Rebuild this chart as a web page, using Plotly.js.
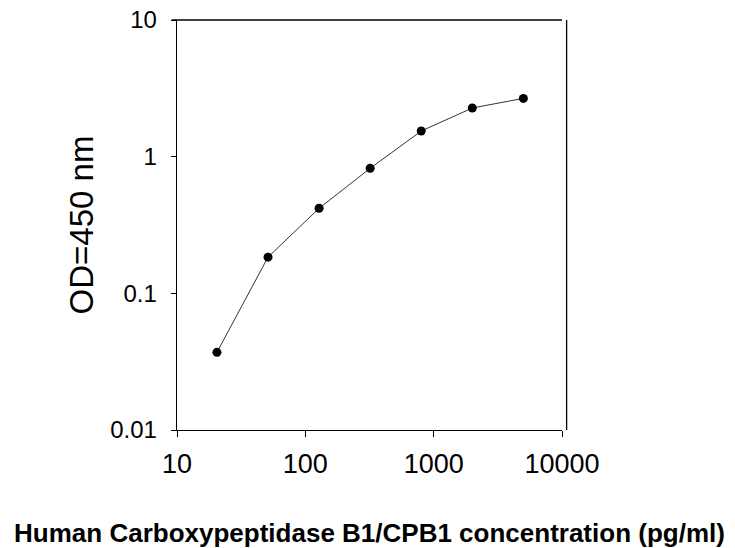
<!DOCTYPE html>
<html>
<head>
<meta charset="utf-8">
<script src="https://cdn.plot.ly/plotly-3.0.1.min.js"></script>
<style>html,body{margin:0;padding:0;background:#fff;}#chart{width:735px;height:548px;}</style>
</head>
<body>
<div id="chart"></div>
<script>
const concentration = [20.48, 51.2, 128, 320, 800, 2000, 5000];
const od450 = [0.037, 0.184, 0.419, 0.822, 1.54, 2.27, 2.67];
const xTickVals = [10, 100, 1000, 10000];
const xTickText = ['10', '100', '1000', '10000'];
const yTickVals = [0.01, 0.1, 1, 10];
const yTickText = ['0.01', '0.1', '1', '10'];
const xTitle = 'Human Carboxypeptidase B1/CPB1 concentration (pg/ml)';
const yTitle = 'OD=450 nm';

const trace = {
  x: concentration, y: od450, type: 'scatter', mode: 'lines+markers',
  line: {color: '#333333', width: 1},
  marker: {color: '#000000', size: 9},
  cliponaxis: false, showlegend: false
};

const layout = {
  width: 735, height: 548,
  margin: {l: 177.3, r: 172.7, t: 20, b: 118, pad: 0},
  paper_bgcolor: '#ffffff', plot_bgcolor: '#ffffff',
  font: {family: 'Liberation Sans, Arial, sans-serif', color: '#000'},
  xaxis: {
    type: 'log', range: [1, 4], tickvals: xTickVals, ticktext: xTickText,
    showgrid: false, zeroline: false, showline: true, linecolor: '#000', linewidth: 1.3,
    ticks: 'outside', ticklen: 6, tickcolor: '#000', tickwidth: 1,
    tickfont: {size: 27, color: '#000'}, ticklabelstandoff: 3,
    title: {text: xTitle, font: {size: 26, color: '#000', family: 'Liberation Sans, Arial, sans-serif', weight: 'bold'}, standoff: 66},
    automargin: false, fixedrange: true
  },
  yaxis: {
    type: 'log', range: [-2, 1], tickvals: yTickVals, ticktext: yTickText,
    showgrid: false, zeroline: false, showline: true, linecolor: '#000', linewidth: 1.3,
    ticks: 'outside', ticklen: 5, tickcolor: '#000', tickwidth: 1,
    tickfont: {size: 24, color: '#000'}, ticklabelstandoff: 9,
    title: {text: yTitle, font: {size: 33, color: '#000'}, standoff: 6},
    automargin: false, fixedrange: true
  },
  shapes: [
    {type: 'line', xref: 'paper', yref: 'paper', x0: -0.014, x1: 1.0, y0: 1, y1: 1, line: {color: '#000', width: 1.3}},
    {type: 'line', xref: 'paper', yref: 'paper', x0: 1.012, x1: 1.012, y0: 0.0, y1: 1.0, line: {color: '#000', width: 1.3}}
  ]
};

Plotly.newPlot('chart', [trace], layout, {displayModeBar: false, staticPlot: true});
</script>
</body>
</html>
